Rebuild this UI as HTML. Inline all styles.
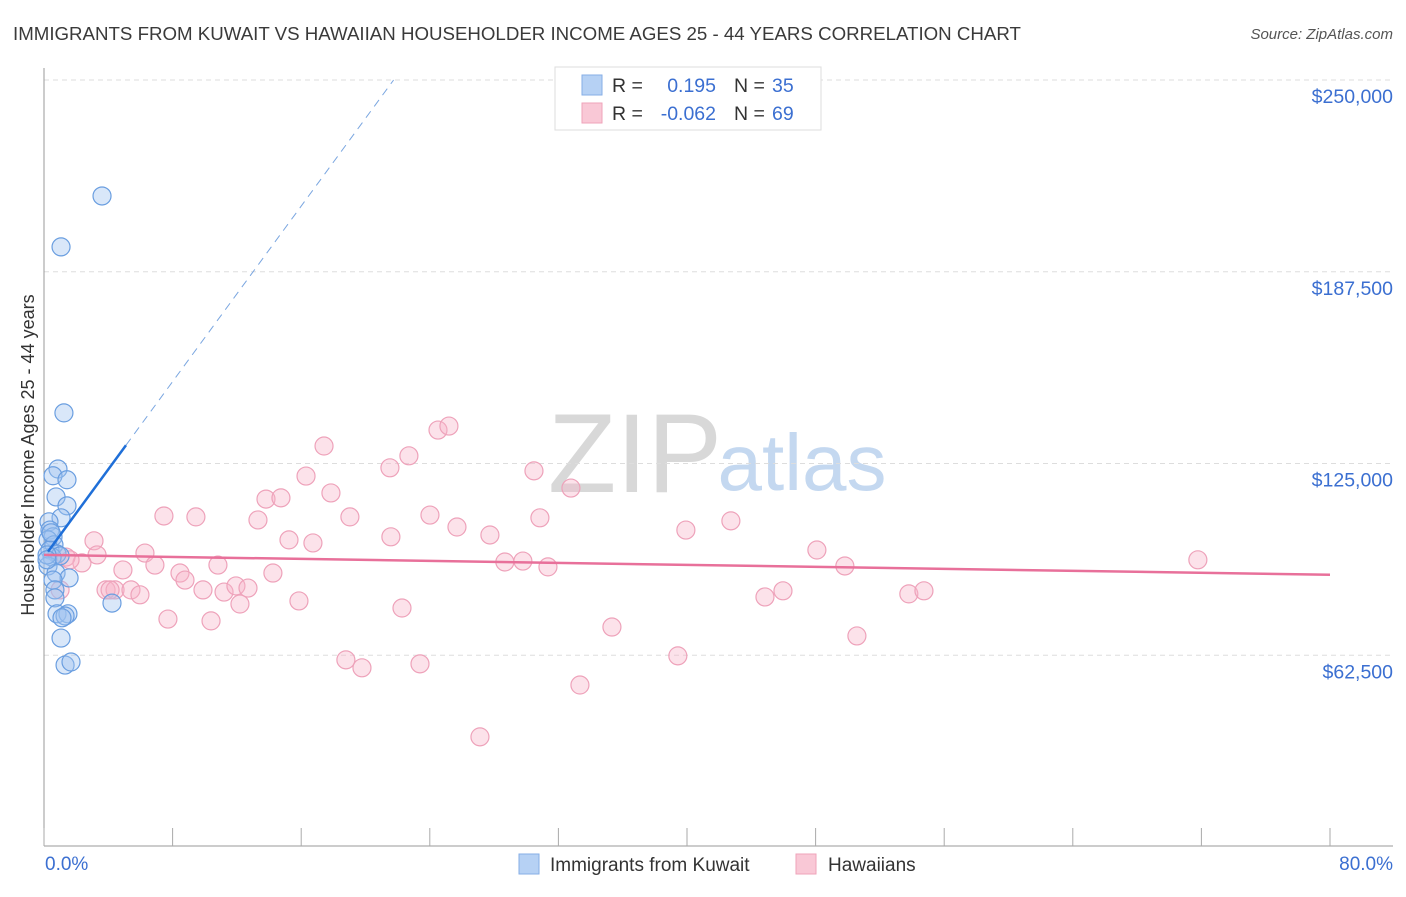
<!DOCTYPE html>
<html><head><meta charset="utf-8"><style>
body{margin:0;background:#fff;font-family:"Liberation Sans",sans-serif}
svg text{font-family:"Liberation Sans",sans-serif}
</style></head><body>
<svg id="chart" width="1406" height="892" xmlns="http://www.w3.org/2000/svg">
<text x="13" y="40" font-size="18.7" fill="#3a3a3a">IMMIGRANTS FROM KUWAIT VS HAWAIIAN HOUSEHOLDER INCOME AGES 25 - 44 YEARS CORRELATION CHART</text>
<text x="1393" y="39" font-size="15" fill="#555" font-style="italic" text-anchor="end">Source: ZipAtlas.com</text>
<g>
<text x="635" y="492" font-size="112" fill="#d8d8d8" font-family="Liberation Serif,serif" text-anchor="middle">ZIP</text>
<text x="802" y="490" font-size="80" fill="#c4d8f0" text-anchor="middle">atlas</text>
</g>
<g id="grid"></g>
<g id="axes"></g>
<g id="marks"></g>
<text transform="translate(34,455) rotate(-90)" font-size="18" fill="#333" text-anchor="middle">Householder Income Ages 25 - 44 years</text>
<g>
<rect x="555" y="67" width="266" height="63" fill="#fff" stroke="#ddd"/>
<rect x="582" y="75" width="20" height="20" fill="#b6d1f4" stroke="#86aee6"/>
<rect x="582" y="103" width="20" height="20" fill="#f9c8d6" stroke="#efa3ba"/>
<text x="612" y="92" font-size="19.5" fill="#333">R =</text>
<text x="716" y="92" font-size="19.5" fill="#3b6fd1" text-anchor="end">0.195</text>
<text x="734" y="92" font-size="19.5" fill="#333">N =</text>
<text x="772" y="92" font-size="19.5" fill="#3b6fd1">35</text>
<text x="612" y="120" font-size="19.5" fill="#333">R =</text>
<text x="716" y="120" font-size="19.5" fill="#3b6fd1" text-anchor="end">-0.062</text>
<text x="734" y="120" font-size="19.5" fill="#333">N =</text>
<text x="772" y="120" font-size="19.5" fill="#3b6fd1">69</text>
</g>
<g>
<rect x="519" y="854" width="20" height="20" fill="#b6d1f4" stroke="#86aee6"/>
<text x="550" y="871" font-size="19" fill="#333">Immigrants from Kuwait</text>
<rect x="796" y="854" width="20" height="20" fill="#f9c8d6" stroke="#efa3ba"/>
<text x="828" y="871" font-size="19" fill="#333">Hawaiians</text>
</g>
</svg>
<script>
const yTicks=[62500,125000,187500,250000];
const yTickLabels=["$62,500","$125,000","$187,500","$250,000"];
const xTickLabels=["0.0%","80.0%"];
const kuwaitX=[3.61,1.06,1.24,0.87,0.56,1.43,0.75,1.43,1.06,0.31,0.37,0.56,0.25,0.62,0.37,0.81,0.50,1.0,0.25,0.75,1.56,0.56,0.68,0.68,4.23,0.81,1.49,1.31,1.12,1.06,1.31,1.68,0.19,0.19,0.44];
const kuwaitY=[212.2,195.6,141.5,123.2,121.0,119.7,114.1,111.2,107.3,106.0,103.3,101.1,100.1,98.5,96.8,95.5,94.5,94.9,91.6,89.3,87.7,87.0,83.8,81.2,79.5,76.0,76.0,75.3,74.7,68.1,59.3,60.3,95.2,93.6,102.4];
const hawX=[3.11,3.30,2.36,1.37,1.62,3.86,4.42,4.91,5.41,5.97,6.28,6.90,7.46,7.71,8.46,8.77,9.45,9.89,10.39,10.82,11.20,11.94,12.19,12.69,13.31,13.81,14.24,14.74,15.24,15.86,16.30,16.73,17.42,17.85,18.78,19.03,19.78,21.52,21.58,22.27,22.70,23.39,24.01,24.51,25.19,25.69,27.12,27.74,28.67,29.79,30.48,30.85,31.35,32.78,33.34,35.33,39.43,39.93,42.73,44.85,45.97,48.08,49.82,50.57,53.80,54.74,71.78,4.11,1.0];
const hawY=[99.8,95.2,92.6,94.5,93.6,83.8,83.8,90.3,83.8,82.2,95.8,91.9,107.9,74.3,89.3,87.0,107.6,83.8,73.7,91.9,83.1,85.1,79.2,84.4,106.6,113.4,89.3,113.8,100.1,80.2,120.9,99.1,130.7,115.4,61.0,107.6,58.4,123.6,101.1,77.9,127.5,59.7,108.2,135.9,137.2,104.3,35.9,101.7,92.9,93.2,122.6,107.3,91.3,117.0,52.8,71.7,62.3,103.3,106.3,81.5,83.5,96.8,91.6,68.8,82.5,83.5,93.6,83.8,83.8];
const kuwaitTrend=[94.5,7.15];
const kuwaitTrendRange=[0.25,5.1];
const hawTrend=[95.2,-0.081];
const NS="http://www.w3.org/2000/svg";
const X=v=>44+v*(1286/80);
const Y=v=>847-v*1000*(767/250000);
function mk(tag,attrs,parent){const e=document.createElementNS(NS,tag);for(const k in attrs)e.setAttribute(k,attrs[k]);document.getElementById(parent).appendChild(e);return e;}
yTicks.forEach((t,i)=>{
 const l=mk('line',{x1:44,x2:1393,y1:Y(t/1000),y2:Y(t/1000),stroke:'#ddd','stroke-dasharray':'5,4'},'grid');
 
 
 const tx=mk('text',{x:1393,y:Y(t/1000)+23,'font-size':19.5,fill:'#3b6fd1','text-anchor':'end'},'axes');
 tx.textContent=yTickLabels[i];
 
 
});
const ya=mk('line',{x1:44,x2:44,y1:68,y2:846,stroke:'#999'},'axes');


const xa=mk('line',{x1:44,x2:1393,y1:846,y2:846,stroke:'#999'},'axes');


for(let i=0;i<=10;i++){const t=mk('line',{x1:X(i*8),x2:X(i*8),y1:828,y2:846,stroke:'#aaa'},'axes');
 
 }
const xl0=mk('text',{x:45,y:870,'font-size':19,fill:'#3b6fd1'},'axes');xl0.textContent=xTickLabels[0];


const xl1=mk('text',{x:1393,y:870,'font-size':19,fill:'#3b6fd1','text-anchor':'end'},'axes');xl1.textContent=xTickLabels[1];


hawX.forEach((x,i)=>{const c=mk('circle',{cx:X(x),cy:Y(hawY[i]),r:9,fill:'rgba(248,180,200,0.38)',stroke:'#eea2ba','stroke-width':1.2},'marks');
 
 });
kuwaitX.forEach((x,i)=>{const c=mk('circle',{cx:X(x),cy:Y(kuwaitY[i]),r:9,fill:'rgba(160,196,240,0.4)',stroke:'#6a9ee0','stroke-width':1.2},'marks');
 
 });
const kEnd=kuwaitTrendRange[1];
const kMax=(250-kuwaitTrend[0])/kuwaitTrend[1];
const kd=mk('line',{x1:X(kEnd),y1:Y(kuwaitTrend[0]+kuwaitTrend[1]*kEnd),x2:X(kMax),y2:Y(250),stroke:'#7aa6e0','stroke-dasharray':'8,6','stroke-width':1},'marks');


const k0=kuwaitTrendRange[0];
const kl=mk('line',{x1:X(k0),y1:Y(kuwaitTrend[0]+kuwaitTrend[1]*k0),x2:X(kEnd),y2:Y(kuwaitTrend[0]+kuwaitTrend[1]*kEnd),stroke:'#1f6fd8','stroke-width':2.5},'marks');


const hl=mk('line',{x1:X(0),y1:Y(hawTrend[0]),x2:X(80),y2:Y(hawTrend[0]+hawTrend[1]*80),stroke:'#e8709a','stroke-width':2.5},'marks');


</script>
</body></html>
